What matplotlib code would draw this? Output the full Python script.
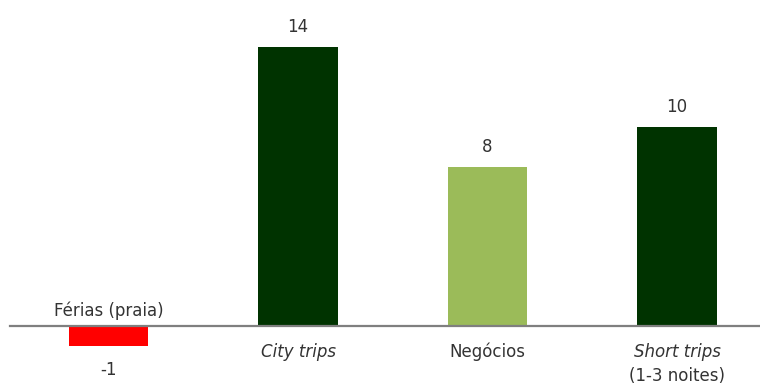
import matplotlib
matplotlib.use("Agg")
import matplotlib.pyplot as plt

categories = ["Férias (praia)", "City trips", "Negócios", "Short trips"]
sublabels = ["", "", "", "(1-3 noites)"]
italic = [False, True, False, True]
values = [-1, 14, 8, 10]
colors = ["#FF0000", "#003300", "#9BBB59", "#003300"]

fig = plt.figure(figsize=(7.6, 3.85), dpi=100)
ax = fig.add_axes([0, 0, 1, 1])
ax.set_xlim(-0.5726, 3.438)
ax.set_ylim(-2.96, 16.36)
ax.axis("off")

x = list(range(len(values)))
ax.bar(x, values, width=0.42, color=colors, zorder=2)
ax.axhline(0, xmin=10 / 760, xmax=1, color="#7f7f7f", lw=1.6, zorder=3)

txt = "#333333"
fs = 12
px = 0.72  # points per pixel at 100 dpi
for i, v in enumerate(values):
    if v >= 0:
        ax.annotate(str(v), (i, v), xytext=(0, 20 * px), textcoords="offset points",
                    ha="center", va="center", fontsize=fs, color=txt)
        ax.annotate(categories[i], (i, 0), xytext=(0, -26 * px), textcoords="offset points",
                    ha="center", va="center", fontsize=fs, color=txt,
                    style="italic" if italic[i] else "normal")
        if sublabels[i]:
            ax.annotate(sublabels[i], (i, 0), xytext=(0, -50 * px), textcoords="offset points",
                        ha="center", va="center", fontsize=fs, color=txt)
    else:
        ax.annotate(str(v), (i, v), xytext=(0, -24 * px), textcoords="offset points",
                    ha="center", va="center", fontsize=fs, color=txt)
        ax.annotate(categories[i], (i, 0), xytext=(0, 15 * px), textcoords="offset points",
                    ha="center", va="center", fontsize=fs, color=txt,
                    style="italic" if italic[i] else "normal")

fig.savefig("out.png", dpi=100)
